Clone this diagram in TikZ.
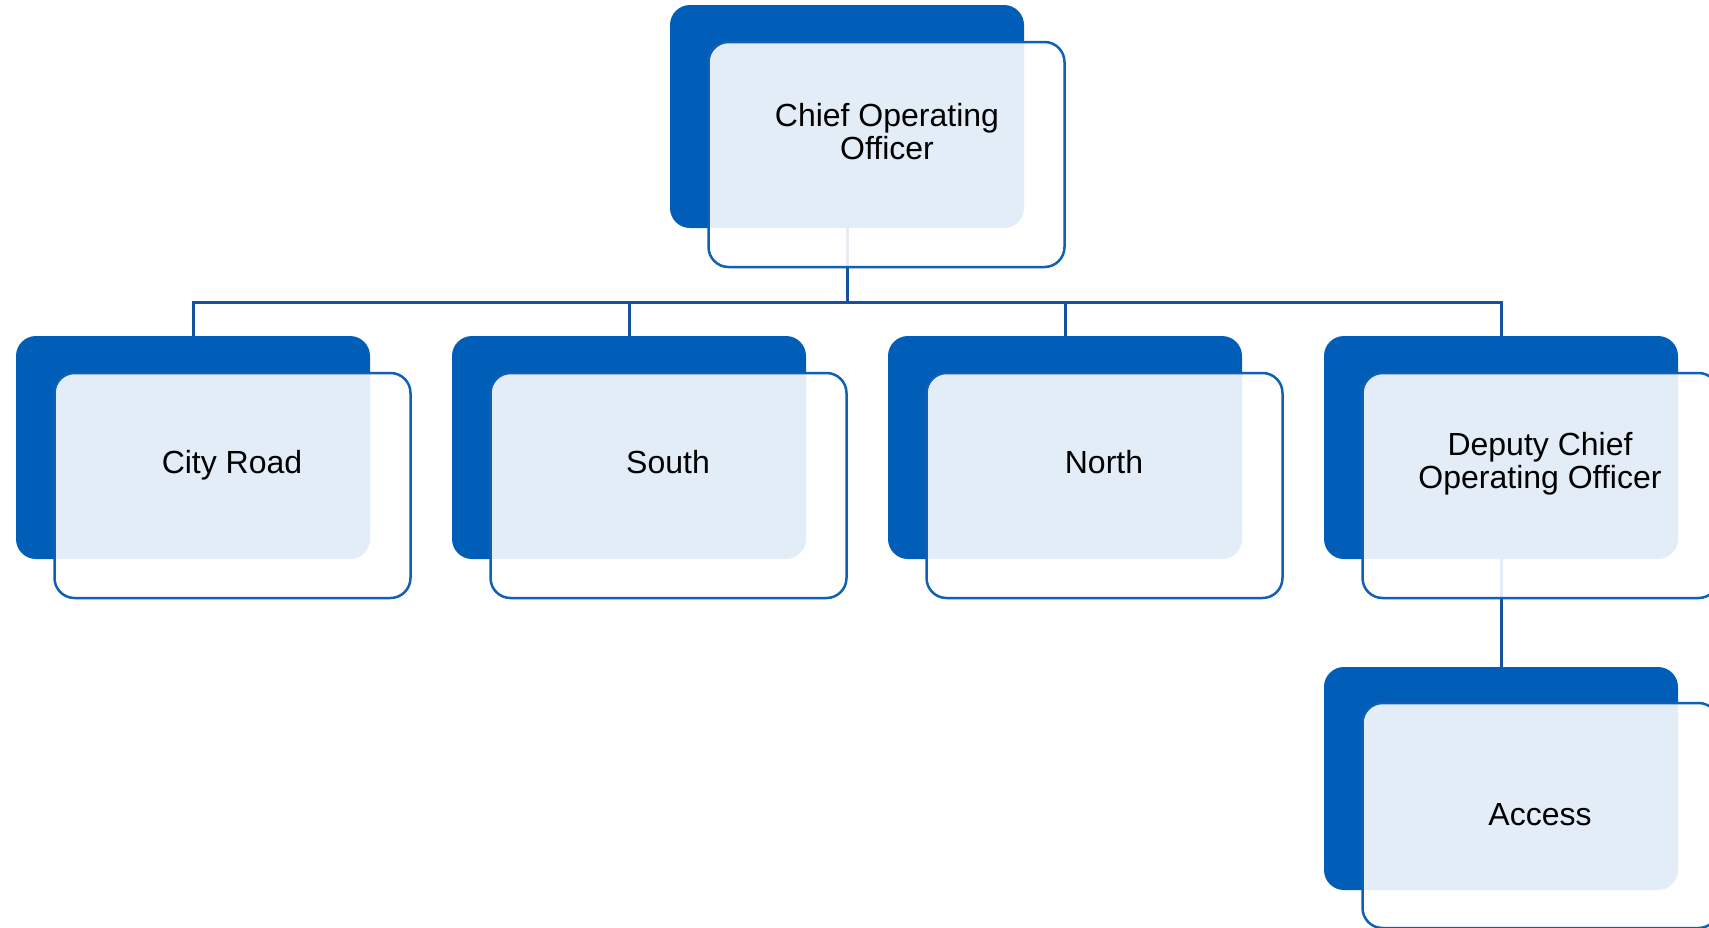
\documentclass[tikz,border=0pt]{standalone}
\usepackage{fontspec}
\setmainfont{Liberation Sans}
\definecolor{nhsblue}{RGB}{0,94,184}
\definecolor{frontblue}{RGB}{16,96,182}
\definecolor{linkblue}{RGB}{20,82,160}
\begin{document}
\begin{tikzpicture}[x=1pt,y=1pt,
  back/.style={fill=nhsblue, draw=none, rounded corners=20pt, minimum width=354pt, minimum height=223pt, inner sep=0pt, outer sep=0pt},
  front/.style={fill=white, fill opacity=0.89, draw=frontblue, line width=2.5pt, rounded corners=20pt, minimum width=356pt, minimum height=225pt, inner sep=0pt},
  lbl/.style={font=\fontsize{32}{33}\selectfont, align=center, text=black, inner sep=0pt},
  lbl1/.style={lbl, anchor=base},
  link/.style={draw=linkblue, line width=3pt}]
\useasboundingbox (0,0) rectangle (1709,-927);
\clip (0,0) rectangle (1709,-927);
% back boxes
\node[back] (tb) at (847,-116.5) {};
\node[back] (cb) at (193,-447.5) {};
\node[back] (sb) at (629,-447.5) {};
\node[back] (nb) at (1065,-447.5) {};
\node[back] (db) at (1501,-447.5) {};
\node[back] (ab) at (1501,-778.5) {};
% connectors
\coordinate (bus) at ([yshift=-74pt]tb.south);
\draw[link] (tb.south) -- (bus) -| (cb.north);
\draw[link] (bus) -| (sb.north);
\draw[link] (bus) -| (nb.north);
\draw[link] (bus) -| (db.north);
\draw[link] (db.south) -- (ab.north);
% front boxes
\node[front] (tf) at (886.5,-154.5) {};
\node[front] (cf) at (232.5,-485.5) {};
\node[front] (sf) at (668.5,-485.5) {};
\node[front] (nf) at (1104.5,-485.5) {};
\node[front] (df) at (1540.5,-485.5) {};
\node[front] (af) at (1540.5,-815.5) {};
% labels
\node[lbl] (tl) at (887,-131.5) {Chief Operating\\Officer};
\node[lbl1] (cl) at (232,-473.5) {City Road};
\node[lbl1] (sl) at (668,-473.5) {South};
\node[lbl1] (nl) at (1104,-473.5) {North};
\node[lbl] (dl) at (1540,-464) {Deputy Chief\\Operating Officer};
\node[lbl1] (al) at (1540,-825) {Access};
\end{tikzpicture}
\end{document}
